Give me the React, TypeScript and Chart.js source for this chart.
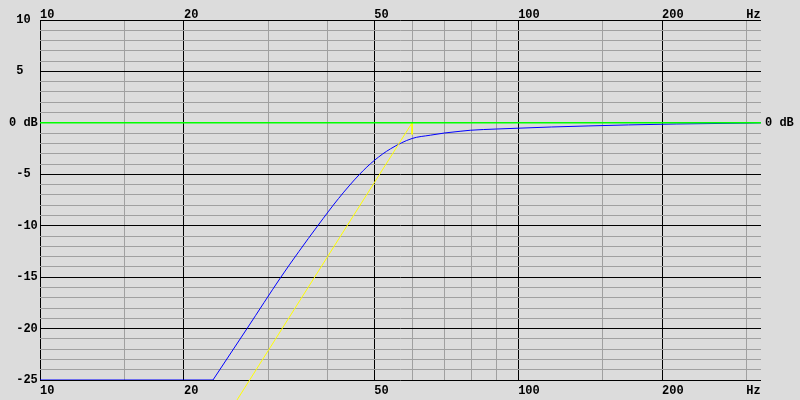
import React, { useEffect, useRef } from 'react';
import { Chart, registerables } from 'chart.js';

Chart.register(...registerables);

// Frequency axis (Hz)
const xMin = 10;
const xMax = 322;
const xTicks = [10, 15, 20, 30, 40, 50, 60, 70, 80, 90, 100, 150, 200, 300];
const xMajor = [10, 20, 50, 100, 200];
const xTickLabels: Record<number, string> = { 10: '10', 20: '20', 50: '50', 100: '100', 200: '200', 300: 'Hz' };

// Level axis (dB)
const yMin = -25;
const yMax = 10;
const yTicks = [-25, -24, -23, -22, -21, -20, -19, -18, -17, -16, -15, -14, -13, -12, -11, -10, -9, -8, -7, -6, -5, -4, -3, -2, -1, 0, 1, 2, 3, 4, 5, 6, 7, 8, 9, 10];
const yMajor = [-25, -20, -15, -10, -5, 0, 5, 10];
const yTickValues = [10, 5, 0, -5, -10, -15, -20, -25];
const yTickTexts = [' 10', ' 5', '0 dB', ' -5', ' -10', ' -15', ' -20', ' -25'];
const yRightValues = [0];
const yRightTexts = ['0 dB'];

// Blue response curve (flat floor, then the rising response)
const floorFreq = [10, 23];
const floorDb = [-25, -25];
const responseFreq = [23, 27.1, 31.9, 34.8, 38.1, 42.1, 46.6, 50, 54.1, 60, 65.5, 70.3, 75.6, 79.4, 90, 100, 117.5, 140, 170, 214, 305, 322];
const responseDb = [-25, -20, -15, -12.5, -10, -7.36, -5, -3.66, -2.52, -1.52, -1.2, -0.98, -0.82, -0.72, -0.6, -0.52, -0.4, -0.3, -0.2, -0.11, -0.02, 0];

// Yellow asymptote
const asymFreq = [25.3, 60, 60];
const asymDb = [-27.6, 0, -1.13];

// Green 0 dB reference
const refFreq = [10, 322];
const refDb = [0, 0];

const FONT = { family: "'Liberation Mono', 'DejaVu Sans Mono', monospace", size: 12, weight: 'bold' as const, lineHeight: 1 };

export default function App() {
  const ref = useRef<HTMLCanvasElement | null>(null);

  useEffect(() => {
    document.body.style.margin = '0';
    document.body.style.background = '#dcdcdc';
    document.body.style.overflow = 'hidden';
    const canvas = ref.current;
    if (!canvas) return;

    const toPts = (xs: number[], ys: number[]) => xs.map((x, i) => ({ x, y: ys[i] }));
    const yLabel = (v: number) => {
      const i = yTickValues.indexOf(v);
      return i >= 0 ? yTickTexts[i] : '';
    };
    const yRightLabel = (v: number) => {
      const i = yRightValues.indexOf(v);
      return i >= 0 ? yRightTexts[i] : '';
    };

    const chart = new Chart(canvas, {
      type: 'line',
      data: {
        datasets: [
          {
            data: toPts(refFreq, refDb),
            borderColor: '#00ff00',
            borderWidth: 1.5,
            pointRadius: 0,
            tension: 0,
          },
          {
            data: toPts(asymFreq, asymDb),
            borderColor: '#ffff00',
            borderWidth: 1,
            pointRadius: 0,
            tension: 0,
            clip: false as any,
          },
          {
            data: toPts(floorFreq, floorDb),
            borderColor: '#0000ff',
            borderWidth: 1,
            pointRadius: 0,
            tension: 0,
          },
          {
            data: toPts(responseFreq, responseDb),
            borderColor: '#0000ff',
            borderWidth: 1,
            pointRadius: 0,
            cubicInterpolationMode: 'monotone',
          },
        ],
      },
      options: {
        animation: false,
        responsive: false,
        maintainAspectRatio: false,
        events: [],
        layout: { padding: { left: 9, right: 0, top: 0, bottom: 0 } },
        plugins: { legend: { display: false }, tooltip: { enabled: false } },
        scales: {
          x: {
            type: 'logarithmic',
            position: 'bottom',
            min: xMin,
            max: xMax,
            afterBuildTicks: (s: any) => { s.ticks = xTicks.map((v) => ({ value: v })); },
            afterFit: (s: any) => { s.height = 20; },
            grid: {
              drawTicks: false,
              lineWidth: 1,
              color: (c: any) => (xMajor.includes(c.tick?.value) ? '#000000' : '#a0a0a0'),
            },
            border: { display: false },
            ticks: {
              autoSkip: false,
              maxRotation: 0,
              align: 'start',
              padding: 5,
              color: '#000',
              font: FONT,
              callback: (v: any) => xTickLabels[Number(v)] ?? '',
            },
          },
          x2: {
            type: 'logarithmic',
            position: 'top',
            min: xMin,
            max: xMax,
            afterBuildTicks: (s: any) => { s.ticks = xTicks.map((v) => ({ value: v })); },
            afterFit: (s: any) => { s.height = 20; },
            grid: { display: false, drawTicks: false },
            border: { display: false },
            ticks: {
              autoSkip: false,
              maxRotation: 0,
              align: 'start',
              padding: -1,
              color: '#000',
              font: FONT,
              callback: (v: any) => xTickLabels[Number(v)] ?? '',
            },
          },
          y: {
            type: 'linear',
            position: 'left',
            min: yMin,
            max: yMax,
            afterBuildTicks: (s: any) => { s.ticks = yTicks.map((v) => ({ value: v })); },
            afterFit: (s: any) => { s.width = 31; },
            grid: {
              drawTicks: false,
              lineWidth: 1,
              color: (c: any) => (yMajor.includes(c.tick?.value) ? '#000000' : '#a0a0a0'),
            },
            border: { display: false },
            ticks: {
              autoSkip: false,
              crossAlign: 'far',
              padding: 0,
              color: '#000',
              font: FONT,
              callback: (v: any) => yLabel(Number(v)),
            },
          },
          y2: {
            type: 'linear',
            position: 'right',
            min: yMin,
            max: yMax,
            afterBuildTicks: (s: any) => { s.ticks = yRightValues.map((v) => ({ value: v })); },
            afterFit: (s: any) => { s.width = 39; },
            grid: { display: false, drawTicks: false },
            border: { display: false },
            ticks: {
              autoSkip: false,
              crossAlign: 'near',
              padding: 4,
              color: '#000',
              font: FONT,
              callback: (v: any) => yRightLabel(Number(v)),
            },
          },
        },
      } as any,
    });

    return () => chart.destroy();
  }, []);

  return (
    <div style={{ width: 800, height: 400, background: '#dcdcdc' }}>
      <canvas ref={ref} width={800} height={400} style={{ display: 'block', width: 800, height: 400 }} />
    </div>
  );
}
